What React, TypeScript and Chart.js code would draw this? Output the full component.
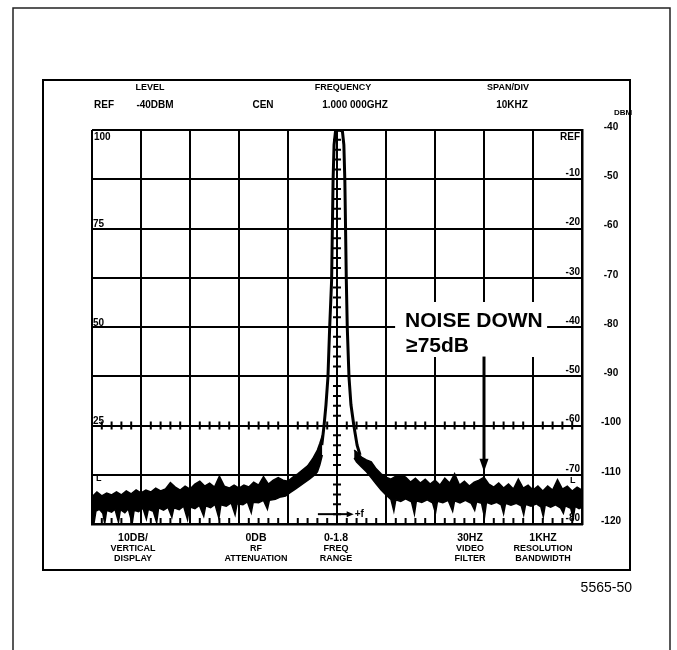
import React, { useEffect, useRef } from 'react';
import { Chart, registerables } from 'chart.js';

Chart.register(...registerables);

// ---------- DATA ----------
// x: frequency offset from 1.000 000 GHz centre, kHz (10 kHz / div)
// y: level, dBm (ref -40 dBm, 10 dB / div)
const leftUpperFreq = [-50, -49, -48, -47, -46, -45, -44, -43, -42, -41, -40, -39, -38, -37, -36, -35, -34, -33, -32, -31, -30, -29, -28, -27, -26, -25, -24, -23, -22, -21, -20, -19, -18, -17, -16, -15, -14, -13, -12, -11, -10, -9, -8, -7, -6, -5, -4, -3.5, -3];
const leftUpper = [-114.5, -113.5, -114.3, -113.7, -114.1, -113.5, -114.1, -113.3, -113.9, -113.1, -113.7, -113.1, -113.5, -112.7, -113.3, -112.9, -111.6, -112.5, -113.1, -112.3, -112.9, -111.9, -111.3, -112.3, -111.7, -112.5, -110.3, -112.3, -112.7, -112.1, -112.7, -112.1, -112.5, -111.5, -112.1, -110.4, -111.9, -111.1, -110.6, -111.1, -111.3, -110.5, -109.8, -109.0, -108.2, -106.8, -105.0, -103.6, -102.0];
const leftLowerFreq = [-50, -49.6, -49.2, -48.5, -47.8, -47.4, -47, -46, -45.3, -44.6, -44.2, -43.3, -42.6, -41.8, -41.4, -40.5, -39.6, -38.9, -38.5, -37.5, -36.8, -36.4, -35.4, -34.5, -33.7, -33.3, -32.2, -31.3, -30.5, -30.1, -29, -28.1, -27.2, -26.8, -25.8, -24.9, -24.1, -23.7, -22.6, -21.6, -20.8, -20.4, -19.2, -18.3, -17.5, -17.1, -16, -15, -14.2, -13.8, -12.6, -11.5, -10.5, -9.5, -8.5, -7.5, -6.5, -5.5, -4.5, -4, -3.5, -3];
const leftLower = [-117.8, -119.9, -117.4, -117.0, -117.8, -119.9, -117.2, -117.6, -117.0, -119.6, -117.1, -117.7, -116.9, -119.9, -117.2, -117.5, -116.8, -119.0, -117.0, -117.4, -119.7, -116.7, -117.2, -116.6, -118.6, -116.7, -117.1, -116.4, -119.1, -116.5, -116.9, -116.2, -118.4, -116.3, -116.7, -116.0, -118.8, -116.1, -116.4, -115.7, -118.1, -115.9, -116.1, -115.5, -117.7, -115.6, -115.7, -115.2, -117.0, -115.2, -115.0, -114.5, -114.3, -113.6, -112.9, -112.2, -111.5, -110.8, -110.0, -109.4, -108.0, -106.0];

const peakFreq = [-3.1, -2.65, -2.25, -1.85, -1.5, -1.1, -0.95, -0.8, -0.6, -0.3, 0.4, 1.1, 1.4, 1.6, 1.75, 1.9, 2.1, 2.45, 2.85, 3.45, 4.1, 4.7];
const peakLevel = [-104.0, -100.1, -95.8, -90.2, -80.2, -70.5, -60.3, -50.2, -43.0, -40.2, -40.0, -40.2, -43.0, -50.2, -60.3, -70.5, -80.2, -90.2, -95.8, -100.1, -104.0, -106.0];

const rightUpperFreq = [3.5, 4, 5, 6, 7, 8, 9, 10, 11, 12, 13, 14, 15, 16, 17, 18, 19, 20, 21, 22, 23, 24, 25, 26, 27, 28, 29, 30, 31, 32, 33, 34, 35, 36, 37, 38, 39, 40, 41, 42, 43, 44, 45, 46, 47, 48, 49, 50];
const rightUpper = [-105.0, -105.4, -106.4, -107.0, -107.4, -108.8, -109.8, -110.5, -110.9, -110.3, -110.0, -110.5, -111.5, -110.7, -111.7, -110.9, -111.9, -111.1, -112.1, -110.7, -111.7, -109.8, -112.1, -111.3, -112.3, -111.5, -111.1, -110.5, -111.9, -112.5, -111.7, -112.7, -111.9, -112.9, -110.9, -112.7, -112.1, -113.1, -112.3, -113.3, -112.3, -113.1, -111.0, -112.9, -112.3, -113.3, -112.5, -113.1];
const rightLowerFreq = [3.5, 4, 5, 6, 7, 8, 9, 10, 11, 11.6, 12, 13, 14, 15.2, 15.8, 16.2, 17.3, 18.4, 19.5, 20.1, 20.5, 21.6, 22.7, 23.6, 24, 25.1, 26.2, 27.4, 28.1, 28.5, 29.5, 30.1, 30.5, 31.5, 32.6, 33.5, 34, 34.4, 35.5, 36.6, 37.6, 38.1, 38.5, 39.6, 40.7, 41.6, 42.1, 42.5, 43.6, 44.6, 45.6, 46.2, 46.6, 47.7, 48.2, 48.6, 49.4, 50];
const rightLower = [-106.6, -107.4, -108.4, -109.4, -110.6, -111.9, -113.1, -114.1, -115.0, -117.4, -115.1, -115.4, -114.9, -115.5, -118.0, -115.3, -115.6, -115.1, -115.7, -117.8, -115.4, -115.7, -115.2, -117.4, -115.3, -115.7, -115.2, -115.8, -117.2, -115.5, -115.8, -118.6, -115.6, -116.0, -115.6, -116.1, -117.9, -115.8, -116.2, -115.8, -116.3, -118.1, -116.0, -116.4, -115.9, -116.5, -118.5, -116.1, -116.6, -116.1, -116.7, -117.8, -116.3, -116.8, -118.8, -116.4, -116.9, -116.6];

// axis / scale labels
const dbmMin = -120;
const dbmMax = -40;
const freqMin = -50;
const freqMax = 50;
const relLabels = ['REF', '-10', '-20', '-30', '-40', '-50', '-60', '-70', '-80'];
const relLevels = [-40, -50, -60, -70, -80, -90, -100, -110, -120];
const pctLabels = ['100', '75', '50', '25'];
const pctLevels = [-40, -60, -80, -100];
const headerTitles = ['LEVEL', 'FREQUENCY', 'SPAN/DIV'];
const headerValues = ['REF', '-40DBM', 'CEN', '1.000 000GHZ', '10KHZ'];
const unitLabel = 'DBM';
const footerColumns = [
  ['10DB/', 'VERTICAL', 'DISPLAY'],
  ['0DB', 'RF', 'ATTENUATION'],
  ['0-1.8', 'FREQ', 'RANGE'],
  ['30HZ', 'VIDEO', 'FILTER'],
  ['1KHZ', 'RESOLUTION', 'BANDWIDTH'],
];
const figureId = '5565-50';

// annotation
const noteLines = ['NOISE DOWN', '\u226575dB'];
const noteArrowFreq = 30;
const noteArrowTop = -86;
const noteArrowTip = -109.4;
const freqArrowLabel = '+f';
const freqArrowLevel = -118;
const freqArrowFrom = -3.9;
const freqArrowTo = 3.4;

// ---------- LAYOUT / STYLE ----------
const W = 677;
const H = 650;
const FONT = '"Liberation Sans", Arial, Helvetica, sans-serif';
const headerTitleX = [150, 343, 508];
const headerValueX = [104, 155, 263, 355, 512];
const footerX = [133, 256, 336, 470, 543];

const pts = (xs: number[], ys: number[]) => xs.map((x, i) => ({ x, y: ys[i] }));

function txt(ctx: CanvasRenderingContext2D, s: string, x: number, y: number, size: number, align: CanvasTextAlign = 'center', base: CanvasTextBaseline = 'middle', weight = 'bold') {
  ctx.font = `${weight} ${size}px ${FONT}`;
  ctx.textAlign = align;
  ctx.textBaseline = base;
  ctx.fillText(s, x, y);
}

const decor = {
  id: 'decor',
  beforeDraw(chart: any) {
    const { ctx } = chart;
    ctx.save();
    ctx.fillStyle = '#fff';
    ctx.fillRect(0, 0, W, H);
    // page frame
    ctx.strokeStyle = '#222';
    ctx.lineWidth = 1.5;
    ctx.beginPath();
    ctx.moveTo(13, H);
    ctx.lineTo(13, 8);
    ctx.lineTo(670, 8);
    ctx.lineTo(670, H);
    ctx.stroke();
    // screen box
    ctx.strokeStyle = '#000';
    ctx.lineWidth = 2;
    ctx.strokeRect(43, 80, 587, 490);
    ctx.fillStyle = '#000';
    headerTitles.forEach((s, i) => txt(ctx, s, headerTitleX[i], 88, 9));
    headerValues.forEach((s, i) => txt(ctx, s, headerValueX[i], 105, 10));
    txt(ctx, unitLabel, 623, 113, 8);
    footerColumns.forEach((col, i) => {
      col.forEach((s, j) => txt(ctx, s, footerX[i], 538 + j * 10.5, j === 0 ? 10.5 : 9));
    });
    txt(ctx, figureId, 632, 588, 14, 'right', 'middle', 'normal');
    ctx.restore();
  },
  beforeDatasetsDraw(chart: any) {
    const { ctx, chartArea } = chart;
    const xs = chart.scales.x;
    const ys = chart.scales.y;
    const cx = xs.getPixelForValue(0);
    const cy = ys.getPixelForValue(-100);
    ctx.save();
    ctx.strokeStyle = '#000';
    ctx.lineWidth = 2;
    ctx.beginPath();
    for (let v = dbmMin; v <= dbmMax; v += 2) {
      if (v % 10 === 0) continue;
      const p = ys.getPixelForValue(v);
      ctx.moveTo(cx - 4, p);
      ctx.lineTo(cx + 4, p);
    }
    for (let f = freqMin; f <= freqMax; f += 2) {
      if (f % 10 === 0) continue;
      const p = xs.getPixelForValue(f);
      ctx.moveTo(p, cy - 4);
      ctx.lineTo(p, cy + 4);
      ctx.moveTo(p, chartArea.bottom);
      ctx.lineTo(p, chartArea.bottom - 6);
    }
    ctx.stroke();
    ctx.restore();
  },
  afterDraw(chart: any) {
    const { ctx, chartArea } = chart;
    const xs = chart.scales.x;
    const ys = chart.scales.y;
    ctx.save();
    ctx.fillStyle = '#000';
    // inner graticule labels
    pctLabels.forEach((s, i) => {
      const p = ys.getPixelForValue(pctLevels[i]);
      if (i === 0) txt(ctx, s, chartArea.left + 2, p + 2, 10, 'left', 'top');
      else txt(ctx, s, chartArea.left + 1, p + 1, 10, 'left', 'bottom');
    });
    relLabels.forEach((s, i) => {
      const p = ys.getPixelForValue(relLevels[i]);
      if (i === 0) txt(ctx, s, chartArea.right - 2, p + 2, 10, 'right', 'top');
      else txt(ctx, s, chartArea.right - 2, p - 1, 10, 'right', 'bottom');
    });
    txt(ctx, 'L', chartArea.left + 4, ys.getPixelForValue(-110.8), 9, 'left');
    txt(ctx, 'L', chartArea.right - 12, ys.getPixelForValue(-111.2), 9, 'left');

    // NOISE DOWN annotation
    const tx = xs.getPixelForValue(13.9);
    const b1 = ys.getPixelForValue(-80);
    const b2 = ys.getPixelForValue(-85.1);
    ctx.fillStyle = '#fff';
    ctx.fillRect(tx - 10, b1 - 25, 152, 55);
    ctx.fillStyle = '#000';
    txt(ctx, noteLines[0], tx, b1, 21, 'left', 'alphabetic');
    txt(ctx, noteLines[1], tx + 1, b2, 21, 'left', 'alphabetic');
    const ax = xs.getPixelForValue(noteArrowFreq);
    const aTop = ys.getPixelForValue(noteArrowTop);
    const aTip = ys.getPixelForValue(noteArrowTip);
    ctx.strokeStyle = '#000';
    ctx.lineWidth = 3;
    ctx.beginPath();
    ctx.moveTo(ax, aTop);
    ctx.lineTo(ax, aTip - 10);
    ctx.stroke();
    ctx.beginPath();
    ctx.moveTo(ax - 4.5, aTip - 13);
    ctx.lineTo(ax + 4.5, aTip - 13);
    ctx.lineTo(ax, aTip);
    ctx.closePath();
    ctx.fill();

    // +f arrow
    const fy = ys.getPixelForValue(freqArrowLevel);
    const f0 = xs.getPixelForValue(freqArrowFrom);
    const f1 = xs.getPixelForValue(freqArrowTo);
    ctx.lineWidth = 2;
    ctx.beginPath();
    ctx.moveTo(f0, fy);
    ctx.lineTo(f1 - 5, fy);
    ctx.stroke();
    ctx.beginPath();
    ctx.moveTo(f1 - 7, fy - 3);
    ctx.lineTo(f1 - 7, fy + 3);
    ctx.lineTo(f1, fy);
    ctx.closePath();
    ctx.fill();
    txt(ctx, freqArrowLabel, f1 + 1, fy, 10, 'left');
    ctx.restore();
  },
};

export default function App() {
  const ref = useRef<HTMLCanvasElement>(null);
  useEffect(() => {
    document.body.style.margin = '0';
    const black = '#000';
    const chart = new Chart(ref.current as HTMLCanvasElement, {
      type: 'line',
      data: {
        datasets: [
          { data: pts(leftUpperFreq, leftUpper), borderColor: black, borderWidth: 1.5, pointRadius: 0, fill: false, tension: 0 },
          { data: pts(leftLowerFreq, leftLower), borderColor: black, borderWidth: 1.5, pointRadius: 0, fill: '-1', backgroundColor: black, tension: 0 },
          { data: pts(rightUpperFreq, rightUpper), borderColor: black, borderWidth: 1.5, pointRadius: 0, fill: false, tension: 0 },
          { data: pts(rightLowerFreq, rightLower), borderColor: black, borderWidth: 1.5, pointRadius: 0, fill: '-1', backgroundColor: black, tension: 0 },
          { data: pts(peakFreq, peakLevel), borderColor: black, borderWidth: 3, pointRadius: 0, fill: false, tension: 0 },
        ],
      } as any,
      options: {
        responsive: false,
        animation: false,
        devicePixelRatio: 1,
        layout: { padding: { left: 92, top: 130, right: 47, bottom: 126 } },
        plugins: { legend: { display: false }, tooltip: { enabled: false } },
        scales: {
          x: {
            type: 'linear',
            min: freqMin,
            max: freqMax,
            ticks: { stepSize: 10, display: false },
            grid: { color: black, lineWidth: 2, drawTicks: false },
            border: { color: black, width: 2.5 },
            afterFit: (s: any) => { s.height = 0; },
          },
          y: {
            type: 'linear',
            position: 'right',
            min: dbmMin,
            max: dbmMax,
            ticks: {
              stepSize: 10,
              color: black,
              padding: 19,
              crossAlign: 'center',
              labelOffset: -3,
              font: { family: FONT, size: 10, weight: 'bold' },
              callback: (v: any) => String(v),
            },
            grid: { color: black, lineWidth: 2, drawTicks: false },
            border: { color: black, width: 2.5 },
            afterFit: (s: any) => { s.width = 48; },
          },
        },
      } as any,
      plugins: [decor],
    });
    return () => chart.destroy();
  }, []);
  return (
    <div style={{ position: 'fixed', left: 0, top: 0, width: W, height: H, background: '#fff' }}>
      <canvas ref={ref} width={W} height={H} style={{ display: 'block' }} />
    </div>
  );
}
